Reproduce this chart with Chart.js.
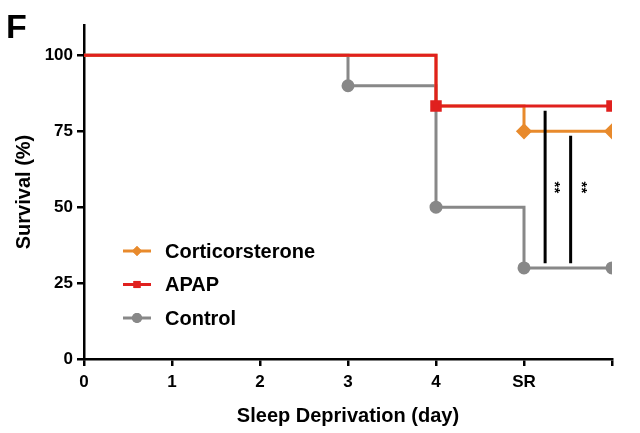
<!DOCTYPE html>
<html>
<head>
<meta charset="utf-8">
<script src="https://cdn.jsdelivr.net/npm/chart.js@4.4.0/dist/chart.umd.min.js"></script>
<style>
  body { margin:0; background:#fff; }
  #wrap { width:640px; height:433px; }
</style>
</head>
<body>
<div id="wrap"><canvas id="c" width="640" height="433"></canvas></div>
<script>
// x positions in days; 5 = SR, 6 = end of recovery
const tickLabels = ['0','1','2','3','4','SR',''];
const ctrlX = [0, 3, 4, 5, 6];
const ctrlY = [100, 90, 50, 30, 30];
const apapX = [0, 4, 6];
const apapY = [100, 83.3, 83.3];
const corX = [0, 4, 5, 6];
const corY = [100, 83.3, 75, 75];
// significance bars (x, y top, y bottom) and their labels
const sigX = [5.24, 5.53];
const sigTop = [81.8, 73.5];
const sigBottom = [31.5, 31.5];
const sigLabelX = [5.34, 5.65];
const sigLabelY = [56.5, 56.5];
const sigText = '**';

const RED = '#e0201e', ORANGE = '#e88a2c', GREY = '#888888';
const pts = (xs, ys) => xs.map((x,i) => ({x, y: ys[i]}));
const FONT = "'Liberation Sans', Arial, sans-serif";

const legendItems = [
  { label:'Corticorsterone', color:ORANGE, style:'rectRot' },
  { label:'APAP', color:RED, style:'rect' },
  { label:'Control', color:GREY, style:'circle' }
];

const sigSets = sigX.map((x,i) => ({
  data: [{x, y: sigTop[i]}, {x, y: sigBottom[i]}],
  borderColor:'#000', borderWidth:3, pointRadius:0, order:0
}));

const decor = {
  id:'decor',
  afterDraw(chart){
    const {ctx, scales:{x, y}} = chart;
    ctx.save();
    ctx.fillStyle = '#000';
    ctx.font = `bold 34px ${FONT}`;
    ctx.textBaseline = 'alphabetic';
    ctx.textAlign = 'left';
    ctx.fillText('F', 6, 38);
    // asterisks
    ctx.font = `bold 15px ${FONT}`;
    sigLabelX.forEach((sx,i) => {
      ctx.save();
      ctx.translate(x.getPixelForValue(sx), y.getPixelForValue(sigLabelY[i]));
      ctx.rotate(Math.PI/2);
      ctx.textAlign = 'center'; ctx.textBaseline = 'middle';
      ctx.fillText(sigText, 0, 0);
      ctx.restore();
    });
    // legend
    legendItems.forEach((it,i) => {
      const ly = 251 + i*33.5;
      ctx.strokeStyle = it.color; ctx.lineWidth = 3;
      ctx.beginPath(); ctx.moveTo(123, ly); ctx.lineTo(151, ly); ctx.stroke();
      ctx.fillStyle = it.color;
      Chart.helpers.drawPoint(ctx, {pointStyle: it.style, radius: 5, rotation: 0, borderWidth: 0}, 137, ly);
      ctx.fill();
      ctx.fillStyle = '#000';
      ctx.font = `bold 20px ${FONT}`;
      ctx.textAlign = 'left'; ctx.textBaseline = 'middle';
      ctx.fillText(it.label, 165, ly + 1);
    });
    ctx.restore();
  }
};

new Chart(document.getElementById('c').getContext('2d'), {
  type:'line',
  data:{ datasets:[
    ...sigSets,
    { label:'APAP', data:pts(apapX, apapY), borderColor:RED, backgroundColor:RED, borderWidth:3, stepped:true,
      pointStyle:'rect', pointRadius:apapX.map((_,i)=> i===0?0:6), order:1 },
    { label:'Corticorsterone', data:pts(corX, corY), borderColor:ORANGE, backgroundColor:ORANGE, borderWidth:3, stepped:true,
      pointStyle:'rectRot', pointRadius:corX.map((_,i)=> i<2?0:6), order:2 },
    { label:'Control', data:pts(ctrlX, ctrlY), borderColor:GREY, backgroundColor:GREY, borderWidth:3, stepped:true,
      pointStyle:'circle', pointRadius:ctrlX.map((_,i)=> i===0?0:5), order:3 }
  ]},
  options:{
    responsive:false, animation:false,
    layout:{ padding:{ left:0, right:28, top:25, bottom:0 } },
    plugins:{ legend:{ display:false }, tooltip:{ enabled:false } },
    scales:{
      x:{ type:'linear', min:0, max:6,
        afterFit(s){ s.height = 74; },
        ticks:{ stepSize:1, color:'#000', font:{ family:FONT, size:17, weight:'bold' }, padding:6,
          callback:(v) => tickLabels[v] ?? '' , maxRotation:0, autoSkip:false },
        grid:{ drawOnChartArea:false, drawTicks:true, tickLength:7, color:'#000', lineWidth:2.5 },
        border:{ color:'#000', width:2.5 },
        title:{ display:true, text:'Sleep Deprivation (day)', color:'#000',
          font:{ family:FONT, size:20, weight:'bold' }, padding:{ top:0, bottom:5 } }
      },
      y:{ min:0, max:110,
        afterFit(s){ s.width = 84; },
        afterBuildTicks(s){ s.ticks = [0,25,50,75,100].map(v => ({value:v})); },
        ticks:{ color:'#000', font:{ family:FONT, size:17, weight:'bold' }, padding:4 },
        grid:{ drawOnChartArea:false, drawTicks:true, tickLength:7, color:'#000', lineWidth:2.5 },
        border:{ color:'#000', width:2.5 },
        title:{ display:true, text:'Survival (%)', color:'#000',
          font:{ family:FONT, size:20, weight:'bold' }, padding:{ top:12, bottom:0 } }
      }
    }
  },
  plugins:[decor]
});
</script>
</body>
</html>
